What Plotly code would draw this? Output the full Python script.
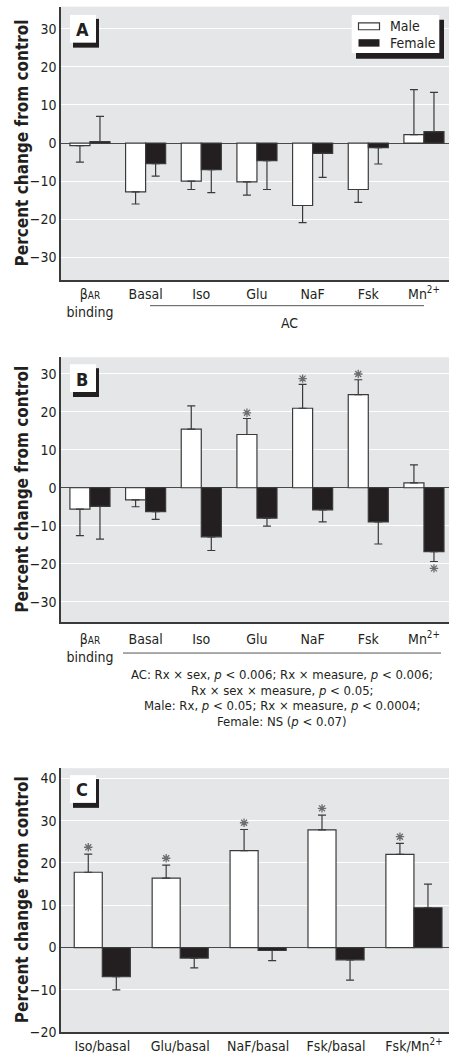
import plotly.graph_objects as go

# ---- data -------------------------------------------------------------
cats_ab = ["βAR binding", "Basal", "Iso", "Glu", "NaF", "Fsk", "Mn2+"]
tick_ab = ["β<span style='font-size:10px'>AR</span><br>binding", "Basal", "Iso",
           "Glu", "NaF", "Fsk", "Mn<sup>2+</sup>"]

a_male = [-0.7, -12.8, -10.0, -10.2, -16.4, -12.2, 2.2]
a_male_se = [4.3, 3.2, 2.2, 3.5, 4.5, 3.4, 11.8]
a_female = [0.4, -5.4, -7.0, -4.6, -2.7, -1.2, 3.0]
a_female_se = [6.6, 3.3, 6.0, 7.6, 6.3, 4.3, 10.3]

b_male = [-5.6, -3.2, 15.4, 14.0, 20.9, 24.5, 1.3]
b_male_se = [7.0, 1.8, 6.1, 4.2, 6.3, 3.9, 4.7]
b_female = [-4.9, -6.3, -12.9, -8.0, -5.8, -9.0, -16.8]
b_female_se = [8.6, 2.0, 3.6, 2.1, 3.2, 5.8, 2.6]
b_male_sig = [False, False, False, True, True, True, False]
b_female_sig = [False, False, False, False, False, False, True]

cats_c = ["Iso/basal", "Glu/basal", "NaF/basal", "Fsk/basal", "Fsk/Mn2+"]
tick_c = ["Iso/basal", "Glu/basal", "NaF/basal", "Fsk/basal", "Fsk/Mn<sup>2+</sup>"]
c_male = [17.8, 16.4, 22.9, 27.8, 22.0]
c_male_se = [4.3, 3.1, 5.0, 3.5, 2.6]
c_female = [-6.9, -2.5, -0.7, -2.9, 9.4]
c_female_se = [3.1, 2.3, 2.4, 4.8, 5.6]
c_male_sig = [True, True, True, True, True]

stats_lines = [
    "AC: Rx × sex, <i>p</i> &lt; 0.006; Rx × measure, <i>p</i> &lt; 0.006;",
    "Rx × sex × measure, <i>p</i> &lt; 0.05;",
    "Male: Rx, <i>p</i> &lt; 0.05; Rx × measure, <i>p</i> &lt; 0.0004;",
    "Female: NS (<i>p</i> &lt; 0.07)",
]

# ---- styling ----------------------------------------------------------
W, H = 455, 1061
FONT = "Liberation Sans Narrow, DejaVu Sans Condensed, Arial Narrow, sans-serif"
BG = "#e5e6e7"
DARK = "#231f20"
EDGE = "#3a3a3a"
TXT = "#231f20"
STAR = "#6d6d6d"
BAR_OFF = 0.18  # half of one bar slot within a group


def px(xp):
    return xp / W


def py(yp):
    return 1 - yp / H


def one_sided(vals, se):
    up = [s if v >= 0 else 0 for v, s in zip(vals, se)]
    down = [s if v < 0 else 0 for v, s in zip(vals, se)]
    return up, down


fig = go.Figure()


def add_pair(xref, yref, n, male, male_se, female, female_se):
    for name, vals, se, fill in (("Male", male, male_se, "white"),
                                 ("Female", female, female_se, DARK)):
        up, down = one_sided(vals, se)
        fig.add_trace(go.Bar(
            x=list(range(n)), y=vals, name=name, xaxis=xref, yaxis=yref,
            marker=dict(color=fill, line=dict(color=EDGE, width=1.2)),
            error_y=dict(type="data", symmetric=False, array=up, arrayminus=down,
                         color=EDGE, thickness=1.2, width=4),
            showlegend=False, hoverinfo="skip",
        ))


def star_trace(xref, yref, vals, se, sig, offset, side, below=False):
    xs, ys = [], []
    for i, (v, s, flag) in enumerate(zip(vals, se, sig)):
        if flag:
            xs.append(i + side * BAR_OFF)
            ys.append(v - s - offset if below else v + s + offset)
    fig.add_trace(go.Scatter(
        x=xs, y=ys, mode="markers", xaxis=xref, yaxis=yref,
        marker=dict(symbol="asterisk-open", size=7, color=STAR,
                    line=dict(color=STAR, width=1.3)),
        showlegend=False, hoverinfo="skip",
    ))


add_pair("x", "y", len(cats_ab), a_male, a_male_se, a_female, a_female_se)
add_pair("x2", "y2", len(cats_ab), b_male, b_male_se, b_female, b_female_se)
add_pair("x3", "y3", len(cats_c), c_male, c_male_se, c_female, c_female_se)

star_trace("x2", "y2", b_male, b_male_se, b_male_sig, 1.5, -1)
star_trace("x2", "y2", b_female, b_female_se, b_female_sig, 1.8, 1, below=True)
star_trace("x3", "y3", c_male, c_male_se, c_male_sig, 1.6, -1)

tickfont = dict(family=FONT, size=14, color=TXT)

xa_common = dict(type="linear", showgrid=False, zeroline=False, showline=True,
                 linecolor=EDGE, linewidth=1.5, ticks="", tickfont=tickfont,
                 fixedrange=True, tickmode="array")
ya_common = dict(showgrid=True, gridcolor="white", gridwidth=1.3, zeroline=True,
                 zerolinecolor="#4a4a4a", zerolinewidth=1.3, showline=True,
                 linecolor=EDGE, linewidth=1.5, ticks="", tickfont=tickfont,
                 fixedrange=True, tickmode="array")

yt_ab = [-30, -20, -10, 0, 10, 20, 30]
yt_c = [-20, -10, 0, 10, 20, 30, 40]


def minus(vals):
    return [str(v).replace("-", "−") for v in vals]


xdom = [px(61), px(449)]
fig.update_layout(
    width=W, height=H, margin=dict(l=0, r=0, t=0, b=0),
    paper_bgcolor="white", plot_bgcolor=BG,
    barmode="group", bargap=0.28, bargroupgap=0,
    font=dict(family=FONT, color=TXT),
    xaxis=dict(xa_common, domain=xdom, anchor="y", range=[-0.52, 6.45],
               tickvals=list(range(len(cats_ab))), ticktext=tick_ab),
    yaxis=dict(ya_common, domain=[py(282.3), py(6.7)], anchor="x", range=[-36, 35.8],
               tickvals=yt_ab, ticktext=minus(yt_ab)),
    xaxis2=dict(xa_common, domain=xdom, anchor="y2", range=[-0.52, 6.45],
                tickvals=list(range(len(cats_ab))), ticktext=tick_ab,
                ticklabelstandoff=3),
    yaxis2=dict(ya_common, domain=[py(626.7), py(360)], anchor="x2", range=[-35.3, 34.3],
                tickvals=yt_ab, ticktext=minus(yt_ab)),
    xaxis3=dict(xa_common, domain=xdom, anchor="y3", range=[-0.53, 4.45],
                tickvals=list(range(len(cats_c))), ticktext=tick_c),
    yaxis3=dict(ya_common, domain=[py(1040), py(774)], anchor="x3", range=[-20, 42.4],
                tickvals=yt_c, ticktext=minus(yt_c)),
)

shapes = []
annots = []


def label_box(x0, y0, letter):
    # white tag with a black drop shadow on the right and bottom
    shapes.append(dict(type="rect", xref="paper", yref="paper",
                       x0=px(x0 + 3), x1=px(x0 + 29), y0=py(y0 + 33), y1=py(y0 + 4),
                       fillcolor=DARK, line=dict(width=0), layer="above"))
    shapes.append(dict(type="rect", xref="paper", yref="paper",
                       x0=px(x0), x1=px(x0 + 26), y0=py(y0 + 28), y1=py(y0),
                       fillcolor="white", line=dict(width=0), layer="above"))
    annots.append(dict(x=px(x0 + 12), y=py(y0 + 15), xref="paper", yref="paper",
                       text=f"<b>{letter}</b>", showarrow=False,
                       font=dict(family=FONT, size=18, color=TXT),
                       xanchor="center", yanchor="middle"))


label_box(70, 15, "A")
label_box(70, 367, "B")
label_box(70, 781, "C")

# legend panel
shapes.append(dict(type="rect", xref="paper", yref="paper",
                   x0=px(356), x1=px(444), y0=py(59.3), y1=py(20),
                   fillcolor=DARK, line=dict(width=0), layer="above"))
shapes.append(dict(type="rect", xref="paper", yref="paper",
                   x0=px(351.7), x1=px(439.3), y0=py(53.3), y1=py(15),
                   fillcolor="white", line=dict(width=0), layer="above"))
shapes.append(dict(type="rect", xref="paper", yref="paper",
                   x0=px(358.5), x1=px(379.5), y0=py(30), y1=py(23),
                   fillcolor="white", line=dict(color=EDGE, width=1.2), layer="above"))
shapes.append(dict(type="rect", xref="paper", yref="paper",
                   x0=px(358.5), x1=px(379.5), y0=py(47), y1=py(39.5),
                   fillcolor=DARK, line=dict(width=0), layer="above"))
for txt, yc in (("Male", 26.5), ("Female", 43.5)):
    annots.append(dict(x=px(388), y=py(yc), xref="paper", yref="paper", text=txt,
                       showarrow=False, xanchor="left", yanchor="middle",
                       font=dict(family=FONT, size=14, color=TXT)))

# AC bracket lines under the category labels
shapes.append(dict(type="line", xref="paper", yref="paper",
                   x0=px(150), x1=px(424), y0=py(308), y1=py(308),
                   line=dict(color="#555555", width=1)))
annots.append(dict(x=px(289), y=py(325), xref="paper", yref="paper", text="AC",
                   showarrow=False, xanchor="center", yanchor="middle",
                   font=dict(family=FONT, size=14, color=TXT)))
shapes.append(dict(type="line", xref="paper", yref="paper",
                   x0=px(123), x1=px(441), y0=py(658), y1=py(658),
                   line=dict(color="#555555", width=1)))
for line, yc in zip(stats_lines, (680, 695.5, 711, 727)):
    annots.append(dict(x=px(282), y=py(yc), xref="paper", yref="paper", text=line,
                       showarrow=False, xanchor="center", yanchor="middle",
                       font=dict(family=FONT, size=13, color=TXT)))

# y-axis titles
for ymid in ((6.7 + 282.3) / 2, (360 + 626.7) / 2, (774 + 1040) / 2):
    annots.append(dict(x=px(22), y=py(ymid), xref="paper", yref="paper",
                       text="<b>Percent change from control</b>", textangle=-90,
                       showarrow=False, xanchor="center", yanchor="middle",
                       font=dict(family=FONT, size=17, color=TXT)))

fig.update_layout(shapes=shapes, annotations=annots)
fig.write_html("out.html")
